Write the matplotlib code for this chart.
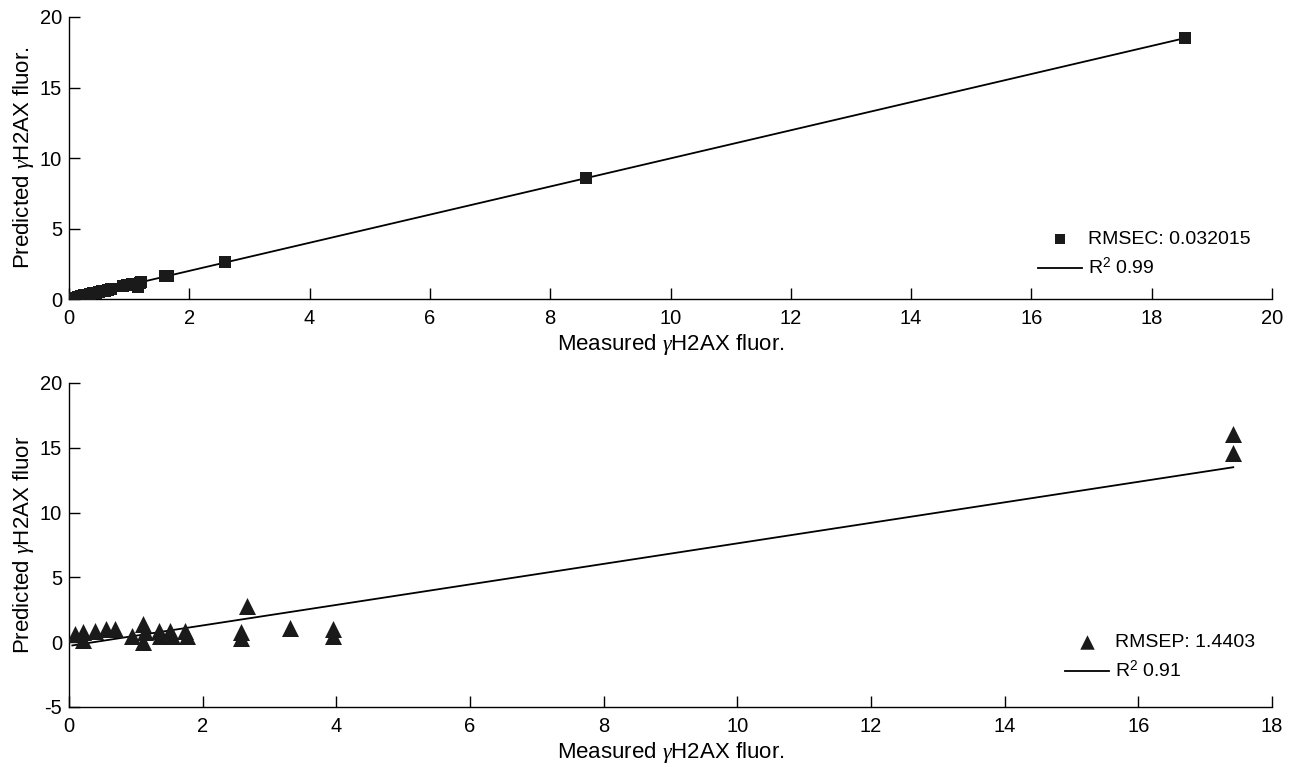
import matplotlib
matplotlib.use("Agg")
import matplotlib.pyplot as plt
import numpy as np

plt.rcParams['font.family'] = ['Liberation Sans', 'DejaVu Sans']
plt.rcParams['axes.unicode_minus'] = False
plt.rcParams['mathtext.fontset'] = 'custom'
plt.rcParams['mathtext.rm'] = 'Liberation Sans'
plt.rcParams['mathtext.it'] = 'Liberation Serif:italic'

# Calibration (top panel)
cal_measured = [0.0, 0.05, 0.1, 0.15, 0.2, 0.25, 0.3, 0.35, 0.4, 0.45, 0.5, 0.55, 0.6, 0.65, 0.7,
                0.9, 0.96, 1.05, 1.15, 1.18, 1.2, 1.6, 1.65, 2.59, 8.6, 18.55]
cal_predicted = [0.0, 0.05, 0.1, 0.15, 0.2, 0.25, 0.3, 0.35, 0.4, 0.45, 0.5, 0.55, 0.6, 0.65, 0.7,
                 0.92, 1.0, 1.05, 0.85, 1.13, 1.2, 1.6, 1.63, 2.6, 8.55, 18.5]
cal_fit_x = [0.0, 18.55]
cal_fit_y = [0.0, 18.5]
cal_label = "RMSEC: 0.032015"
cal_r2 = "R$^2$ 0.99"

# Prediction (bottom panel)
pred_measured = [0.09, 0.21, 0.21, 0.39, 0.56, 0.69, 0.94, 1.11, 1.11, 1.14, 1.34, 1.36, 1.51, 1.54,
                 1.74, 1.76, 2.66, 2.58, 2.58, 3.3, 3.95, 3.95, 17.42, 17.42]
pred_predicted = [0.6, 0.75, 0.15, 0.85, 1.0, 1.0, 0.5, 1.4, 0.0, 0.75, 0.9, 0.5, 0.9, 0.5,
                  0.9, 0.5, 2.8, 0.75, 0.3, 1.1, 1.0, 0.5, 16.1, 14.6]
pred_fit_x = [0.05, 17.42]
pred_fit_y = [-0.25, 13.5]
pred_label = "RMSEP: 1.4403"
pred_r2 = "R$^2$ 0.91"

W, H = 1296, 767
fig = plt.figure(figsize=(W / 100, H / 100), dpi=100)
ax1 = fig.add_axes([69/W, 1-299/H, 1203/W, 282/H])
ax2 = fig.add_axes([69/W, 1-707/H, 1203/W, 324/H])

tick_fs = 14.5
lab_fs = 16
leg_fs = 14
xlab = r"Measured $\gamma$H2AX fluor."

def style(ax):
    for s in ['top', 'right']:
        ax.spines[s].set_visible(False)
    for s in ['left', 'bottom']:
        ax.spines[s].set_linewidth(1.0)
    ax.tick_params(direction='in', length=8, width=1.0, labelsize=tick_fs)
    ax.tick_params(axis='x', pad=7)
    ax.tick_params(axis='y', pad=5)

def legend(ax, handles, labels, x_px, y_px, mscale):
    ax.legend(handles, labels, loc='upper left', bbox_to_anchor=(x_px / W, 1 - y_px / H),
              bbox_transform=fig.transFigure, frameon=False, fontsize=leg_fs,
              handlelength=2.27, handletextpad=0.3, labelspacing=0.5, borderpad=0,
              borderaxespad=0, scatterpoints=1, markerscale=mscale)

# Top
sc1 = ax1.scatter(cal_measured, cal_predicted, marker='s', s=80, color='#1a1a1a', zorder=3, linewidths=0)
ln1, = ax1.plot(cal_fit_x, cal_fit_y, color='black', lw=1.3)
ax1.set_xlim(0, 20)
ax1.set_ylim(0, 20)
ax1.set_xticks(range(0, 21, 2))
ax1.set_yticks(range(0, 21, 5))
ax1.set_xlabel(xlab, fontsize=lab_fs, labelpad=3)
ax1.set_ylabel(r"Predicted $\gamma$H2AX fluor.", fontsize=lab_fs, labelpad=3)
style(ax1)
legend(ax1, [sc1, ln1], [cal_label, cal_r2], 1038, 230, 0.75)

# Bottom
sc2 = ax2.scatter(pred_measured, pred_predicted, marker='^', s=150, color='#1a1a1a', zorder=3, linewidths=0)
ln2, = ax2.plot(pred_fit_x, pred_fit_y, color='black', lw=1.3)
ax2.set_xlim(0, 18)
ax2.set_ylim(-5, 20)
ax2.set_xticks(range(0, 19, 2))
ax2.set_yticks(range(-5, 21, 5))
ax2.set_xlabel(xlab, fontsize=lab_fs, labelpad=3)
ax2.set_ylabel(r"Predicted $\gamma$H2AX fluor", fontsize=lab_fs, labelpad=3)
style(ax2)
legend(ax2, [sc2, ln2], [pred_label, pred_r2], 1065, 633, 0.85)

fig.savefig("out.png", dpi=100)
